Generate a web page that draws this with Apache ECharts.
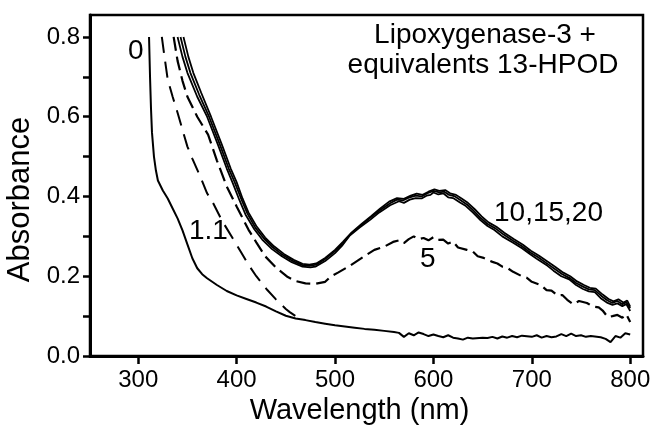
<!DOCTYPE html>
<html>
<head>
<meta charset="utf-8">
<script src="https://cdn.jsdelivr.net/npm/echarts@6/dist/echarts.min.js"></script>
<style>
html,body{margin:0;padding:0;background:#fff;}
#chart{width:652px;height:426px;}
</style>
</head>
<body>
<div id="chart"></div>
<script>
// ---- data ----
var xTickValues = [300, 400, 500, 600, 700, 800];
var yTickValues = [0, 0.1, 0.2, 0.3, 0.4, 0.5, 0.6, 0.7, 0.8];
var yLabelValues = [0, 0.2, 0.4, 0.6, 0.8];

// 0 equivalents (solid)
var wl0 = [311,312,313,314,316,318,320,325,330,335,340,345,350,355,360,365,370,380,390,400,410,420,430,440,450,460,470,480,490,500,510,520,530,540,550,560,565,570,575,580,585,590,595,600,605,610,615,620,625,630,635,640,650,655,660,665,670,675,680,685,690,700,705,710,715,720,725,730,735,740,745,750,755,760,770,775,780,785,790,795,800];
var abs0 = [0.80,0.70,0.62,0.56,0.50,0.465,0.44,0.415,0.395,0.37,0.345,0.315,0.28,0.245,0.22,0.205,0.195,0.178,0.163,0.152,0.143,0.134,0.124,0.112,0.101,0.094,0.090,0.085,0.081,0.077,0.074,0.071,0.068,0.066,0.063,0.060,0.058,0.048,0.057,0.052,0.059,0.055,0.050,0.054,0.050,0.047,0.052,0.046,0.044,0.041,0.046,0.044,0.046,0.045,0.048,0.044,0.049,0.046,0.050,0.047,0.051,0.048,0.052,0.046,0.050,0.047,0.049,0.055,0.050,0.056,0.050,0.052,0.048,0.050,0.047,0.043,0.035,0.050,0.046,0.057,0.054];

// 1.1 equivalents (dashed)
var wl11 = [324,327,330,335,340,345,350,355,363,370,376,385,397,405,412,420,431,440,450,454,460,465];
var abs11 = [0.80,0.745,0.693,0.65,0.61,0.567,0.525,0.495,0.45,0.408,0.384,0.34,0.291,0.258,0.229,0.20,0.166,0.142,0.118,0.110,0.100,0.094];

// 5 equivalents (dashed)
var wl5 = [336,340,345,350,360,371,380,390,400,412,420,429,440,452,460,470,480,490,495,503,515,529,540,550,559,565,570,575,580,585,590,595,600,604,610,615,620,625,634,640,645,651,655,660,665,670,675,681,690,695,700,709,715,720,726,731,736,742,748,756,762,768,772,777,782,787,792,796,800];
var abs5 = [0.80,0.74,0.69,0.65,0.60,0.555,0.49,0.425,0.375,0.317,0.285,0.25,0.222,0.198,0.188,0.182,0.181,0.186,0.198,0.209,0.226,0.249,0.266,0.274,0.286,0.29,0.283,0.293,0.30,0.293,0.296,0.29,0.298,0.291,0.292,0.282,0.287,0.272,0.266,0.262,0.25,0.246,0.241,0.236,0.232,0.224,0.221,0.211,0.20,0.196,0.186,0.178,0.165,0.164,0.152,0.153,0.141,0.13,0.138,0.133,0.124,0.122,0.114,0.098,0.10,0.103,0.096,0.105,0.085];

// 10 equivalents (solid)
var wl10 = [340,345,350,360,370,381,390,396,403,409,418,426,436,446,456,467,475,480,490,500,507,515,525,536,545,556,565,570,576,582,588,593,597,600,605,610,615,620,627,633,640,648,655,662,670,681,690,698,705,716,722,730,738,745,752,758,764,770,777,782,787,792,796,800];
var abs10 = [0.80,0.75,0.71,0.65,0.60,0.53,0.47,0.434,0.39,0.355,0.318,0.292,0.268,0.25,0.235,0.224,0.222,0.224,0.238,0.258,0.276,0.302,0.322,0.342,0.36,0.378,0.388,0.384,0.392,0.396,0.395,0.402,0.404,0.41,0.405,0.408,0.398,0.396,0.385,0.376,0.36,0.34,0.326,0.316,0.30,0.284,0.27,0.256,0.244,0.226,0.214,0.20,0.192,0.178,0.168,0.162,0.16,0.145,0.133,0.128,0.132,0.125,0.13,0.113];

// 15 equivalents (solid)
var wl15 = [343,348,353,362,372,383,392,398,405,411,419,428,437,447,457,467,474,481,490,500,508,516,526,536,546,556,563,569,576,582,588,594,600,606,611,616,622,628,634,641,648,655,663,671,681,690,698,706,716,723,731,738,745,752,758,764,771,777,782,787,792,796,800];
var abs15 = [0.80,0.75,0.71,0.655,0.60,0.53,0.47,0.436,0.392,0.357,0.322,0.294,0.272,0.253,0.238,0.228,0.226,0.229,0.243,0.263,0.282,0.306,0.327,0.347,0.366,0.383,0.392,0.39,0.398,0.402,0.40,0.408,0.414,0.41,0.412,0.404,0.40,0.39,0.38,0.364,0.346,0.331,0.32,0.305,0.289,0.275,0.26,0.248,0.231,0.219,0.205,0.196,0.183,0.174,0.167,0.165,0.15,0.139,0.133,0.138,0.13,0.135,0.12];

// 20 equivalents (solid)
var wl20 = [346,351,356,364,374,385,394,400,406,412,420,429,438,448,458,467,474,481,490,500,508,517,527,537,546,555,563,570,577,583,589,595,601,606,612,617,623,629,635,642,649,656,664,672,682,691,699,707,717,724,732,739,746,753,759,765,772,778,783,788,793,797,800];
var abs20 = [0.80,0.75,0.71,0.66,0.60,0.53,0.47,0.436,0.395,0.36,0.326,0.297,0.275,0.256,0.241,0.231,0.229,0.232,0.246,0.266,0.286,0.31,0.331,0.351,0.37,0.387,0.396,0.394,0.402,0.407,0.404,0.412,0.418,0.414,0.416,0.408,0.404,0.394,0.384,0.368,0.35,0.335,0.324,0.309,0.293,0.279,0.264,0.252,0.235,0.223,0.209,0.20,0.187,0.178,0.171,0.169,0.154,0.143,0.137,0.142,0.134,0.139,0.124];

var titleLines = ['Lipoxygenase-3 +', 'equivalents 13-HPOD'];
var curveLabels = ['0', '1.1', '5', '10,15,20'];

function pairs(xs, ys) { return xs.map(function (x, i) { return [x, ys[i]]; }); }

var FONT = '"Liberation Sans", Arial, Helvetica, sans-serif';

function lineSeries(name, xs, ys, width, dash) {
  return {
    name: name, type: 'line', data: pairs(xs, ys),
    showSymbol: false, symbol: 'none', smooth: false, animation: false,
    lineStyle: { color: '#000', width: width, type: dash || 'solid' },
    emphasis: { disabled: true }
  };
}

function label(text, x, y, align) {
  return { type: 'text', x: x, y: y, silent: true,
    style: { text: text, font: '28px ' + FONT, fill: '#000', textAlign: align, textVerticalAlign: 'middle' } };
}

var chart = echarts.init(document.getElementById('chart'), null, { renderer: 'canvas' });
chart.setOption({
  backgroundColor: '#fff',
  animation: false,
  grid: { left: 90, right: 9, top: 15, bottom: 70, show: true, borderColor: '#000', borderWidth: 2.5, outerBoundsMode: 'none', containLabel: false },
  xAxis: {
    type: 'value', min: 251, max: 813,
    name: 'Wavelength (nm)', nameLocation: 'middle', nameGap: 39,
    nameTextStyle: { fontFamily: FONT, fontSize: 29, color: '#000', padding: [0, 14, 0, 0] },
    axisLine: { show: true, lineStyle: { color: '#000', width: 3 } },
    axisTick: { show: true, inside: false, length: 8, customValues: xTickValues, lineStyle: { color: '#000', width: 2.5 } },
    axisLabel: { show: true, margin: 12, customValues: xTickValues, fontFamily: FONT, fontSize: 24, color: '#000' },
    splitLine: { show: false }, minorTick: { show: false }
  },
  yAxis: {
    type: 'value', min: 0, max: 0.855,
    name: 'Absorbance', nameLocation: 'middle', nameGap: 52,
    nameTextStyle: { fontFamily: FONT, fontSize: 31, color: '#000', padding: [0, 28, 0, 0] },
    axisLine: { show: true, lineStyle: { color: '#000', width: 3 } },
    axisTick: { show: true, inside: false, length: 7, customValues: yTickValues, lineStyle: { color: '#000', width: 2.5 } },
    axisLabel: { show: true, margin: 10, customValues: yLabelValues, fontFamily: FONT, fontSize: 24, color: '#000',
      formatter: function (v) { return v.toFixed(1); } },
    splitLine: { show: false }, minorTick: { show: false }
  },
  series: [
    lineSeries('0', wl0, abs0, 2),
    lineSeries('1.1', wl11, abs11, 2, [16, 9]),
    lineSeries('5', wl5, abs5, 2.2, [14, 6]),
    lineSeries('10', wl10, abs10, 1.8),
    lineSeries('15', wl15, abs15, 1.8),
    lineSeries('20', wl20, abs20, 1.8)
  ],
  graphic: [
    label(titleLines[0], 485, 35, 'center'),
    label(titleLines[1], 483, 65, 'center'),
    label(curveLabels[0], 128, 51, 'left'),
    label(curveLabels[1], 189, 231, 'left'),
    label(curveLabels[2], 420, 259, 'left'),
    label(curveLabels[3], 494, 213, 'left')
  ]
});
</script>
</body>
</html>
